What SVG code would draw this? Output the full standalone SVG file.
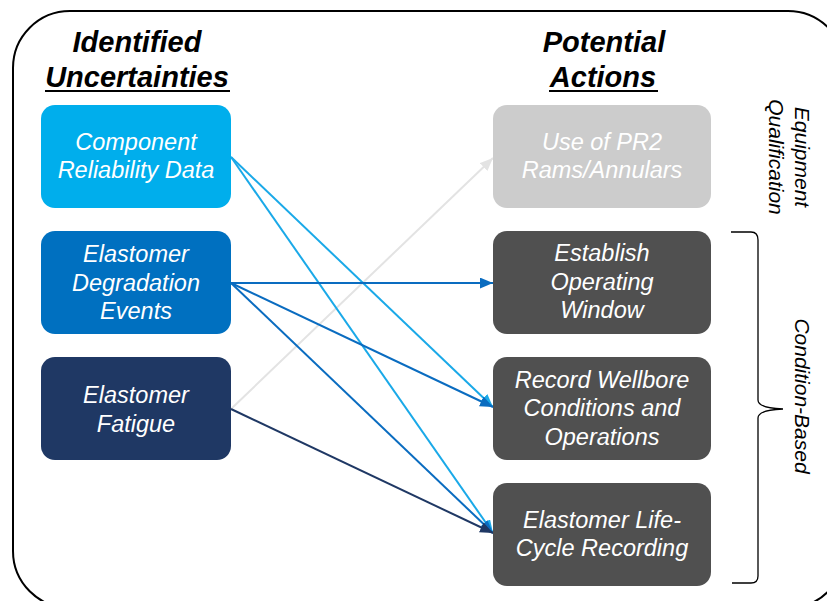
<svg xmlns="http://www.w3.org/2000/svg" width="827" height="601" viewBox="0 0 827 601">
<style>
.hdr{font-family:"Liberation Sans",Arial,sans-serif;font-weight:bold;font-style:italic;font-size:29px;fill:#000;text-anchor:middle}
.bt{font-family:"Liberation Sans",Arial,sans-serif;font-style:italic;font-size:23.5px;fill:#fff;text-anchor:middle}
.side{font-family:"Liberation Sans",Arial,sans-serif;font-style:italic;font-size:21px;fill:#000;text-anchor:middle}
.c{fill:none;stroke-width:2}
</style>
<defs>
<marker id="mL" viewBox="0 0 12 10" refX="12" refY="5" markerWidth="13" markerHeight="11" markerUnits="userSpaceOnUse" orient="auto"><path d="M0,0 L12,5 L0,10 Z" fill="#1AA9E8"/></marker>
<marker id="mM" viewBox="0 0 12 10" refX="12" refY="5" markerWidth="13" markerHeight="11" markerUnits="userSpaceOnUse" orient="auto"><path d="M0,0 L12,5 L0,10 Z" fill="#0A6CC0"/></marker>
<marker id="mN" viewBox="0 0 12 10" refX="12" refY="5" markerWidth="13" markerHeight="11" markerUnits="userSpaceOnUse" orient="auto"><path d="M0,0 L12,5 L0,10 Z" fill="#1F3864"/></marker>
<marker id="mG" viewBox="0 0 12 10" refX="12" refY="5" markerWidth="13" markerHeight="11" markerUnits="userSpaceOnUse" orient="auto"><path d="M0,0 L12,5 L0,10 Z" fill="#E3E3E3"/></marker>
</defs>
<rect x="13" y="11" width="832" height="597" rx="57" ry="57" fill="none" stroke="#000" stroke-width="2"/>
<g id="headers">
<text class="hdr" x="137" y="52">Identified</text>
<text class="hdr" x="137" y="87">Uncertainties</text>
<rect x="45" y="90" width="185" height="2" fill="#000"/>
<text class="hdr" x="604" y="52">Potential</text>
<text class="hdr" x="603" y="87">Actions</text>
<rect x="549" y="90" width="109" height="2" fill="#000"/>
</g>
<g id="connectors">
<line class="c" x1="231" y1="409" x2="493" y2="158" stroke="#E3E3E3" marker-end="url(#mG)"/>
<line class="c" x1="231" y1="157" x2="493" y2="407" stroke="#1AA9E8" marker-end="url(#mL)"/>
<line class="c" x1="231" y1="157" x2="493" y2="533" stroke="#1AA9E8" marker-end="url(#mL)"/>
<line class="c" x1="231" y1="283" x2="493" y2="283" stroke="#0A6CC0" marker-end="url(#mM)"/>
<line class="c" x1="231" y1="283" x2="493" y2="407" stroke="#0A6CC0" marker-end="url(#mM)"/>
<line class="c" x1="231" y1="283" x2="493" y2="533" stroke="#0A6CC0" marker-end="url(#mM)"/>
<line class="c" x1="231" y1="409" x2="493" y2="533" stroke="#1F3864" marker-end="url(#mN)"/>
</g>
<g id="n-component">
<rect x="41" y="105" width="190" height="103" rx="14" fill="#00AEEC"/>
<text class="bt" x="136" y="150">Component</text>
<text class="bt" x="136" y="178">Reliability Data</text>
</g>
<g id="n-degradation">
<rect x="41" y="231" width="190" height="103" rx="14" fill="#0070C0"/>
<text class="bt" x="136" y="262">Elastomer</text>
<text class="bt" x="136" y="291">Degradation</text>
<text class="bt" x="136" y="319">Events</text>
</g>
<g id="n-fatigue">
<rect x="41" y="357" width="190" height="103" rx="14" fill="#1F3864"/>
<text class="bt" x="136" y="403">Elastomer</text>
<text class="bt" x="136" y="432">Fatigue</text>
</g>
<g id="n-pr2">
<rect x="493" y="105" width="218" height="103" rx="14" fill="#CCCCCC"/>
<text class="bt" x="602" y="150" fill="#F4F4F4">Use of PR2</text>
<text class="bt" x="602" y="178" fill="#F4F4F4">Rams/Annulars</text>
</g>
<g id="n-window">
<rect x="493" y="231" width="218" height="103" rx="14" fill="#505050"/>
<text class="bt" x="602" y="261">Establish</text>
<text class="bt" x="602" y="290">Operating</text>
<text class="bt" x="602" y="318">Window</text>
</g>
<g id="n-wellbore">
<rect x="493" y="357" width="218" height="103" rx="14" fill="#505050"/>
<text class="bt" x="602" y="388">Record Wellbore</text>
<text class="bt" x="602" y="416">Conditions and</text>
<text class="bt" x="602" y="445">Operations</text>
</g>
<g id="n-lifecycle">
<rect x="493" y="483" width="218" height="103" rx="14" fill="#505050"/>
<text class="bt" x="602" y="528">Elastomer Life-</text>
<text class="bt" x="602" y="556">Cycle Recording</text>
</g>
<g id="side-labels">
<text class="side" transform="translate(795,157) rotate(90)">Equipment</text>
<text class="side" transform="translate(769,157) rotate(90)">Qualification</text>
<path d="M731,232 L751,232 Q758,232 758,240 L758,400 Q758,408 783,409 Q758,410 758,418 L758,576 Q758,583 751,583 L732,583" fill="none" stroke="#000" stroke-width="1.3"/>
<text class="side" transform="translate(795,396) rotate(90)">Condition-Based</text>
</g>
</svg>
